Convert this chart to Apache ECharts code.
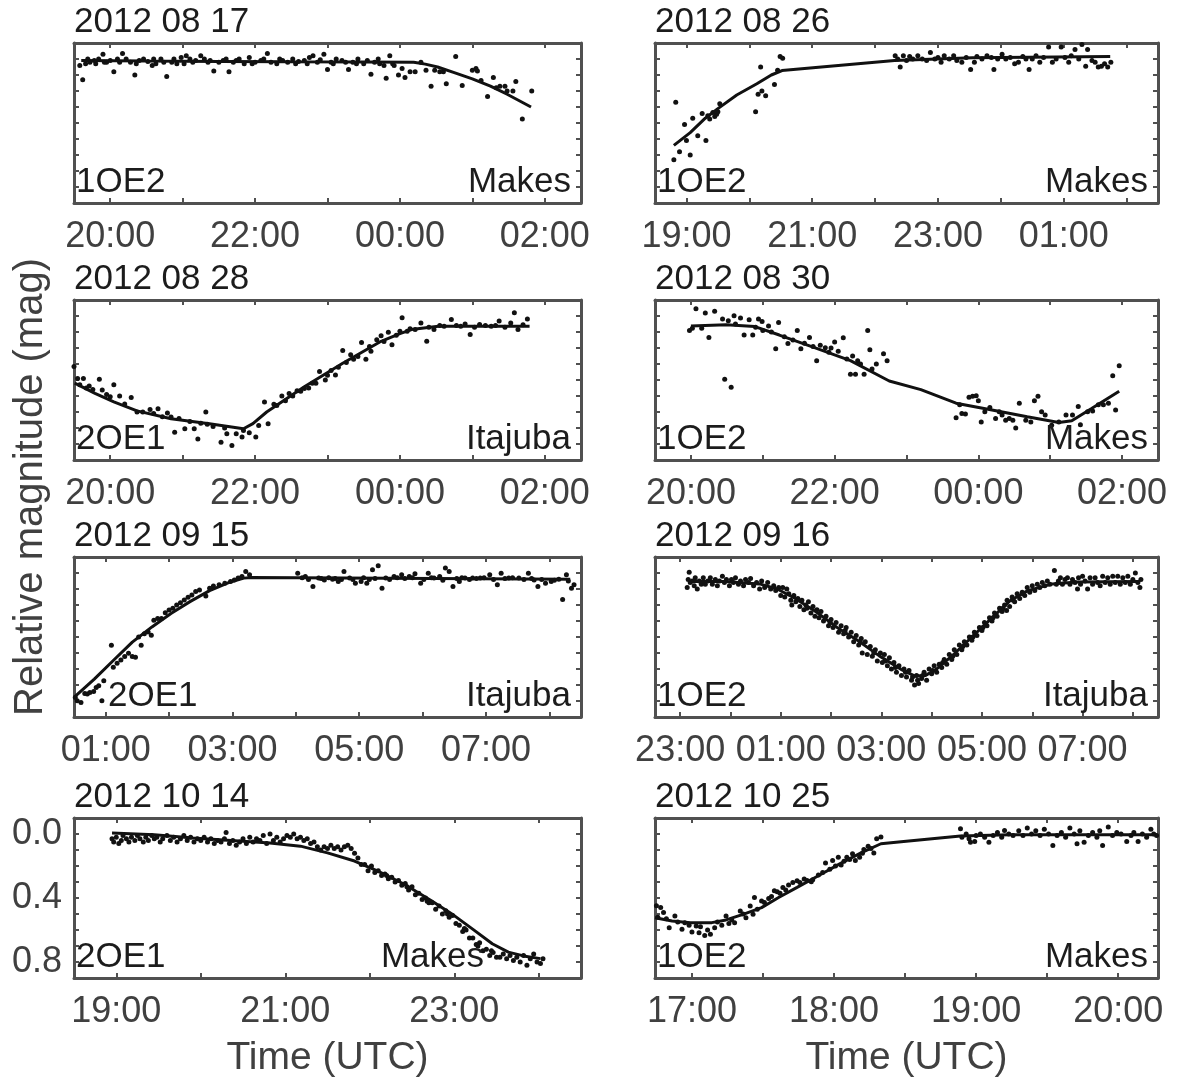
<!DOCTYPE html>
<html>
<head>
<meta charset="utf-8">
<script src="https://cdn.jsdelivr.net/npm/echarts@6/dist/echarts.min.js"></script>
<style>
  html, body { margin: 0; padding: 0; background: #fff; }
  #chart { width: 1178px; height: 1084px; }
</style>
</head>
<body>
<div id="chart"></div>
<script>
// ---- data (time in hours, magnitude in mag) ----
const titles = ['2012 08 17', '2012 08 26', '2012 08 28', '2012 08 30',
                '2012 09 15', '2012 09 16', '2012 10 14', '2012 10 25'];
const stations = ['1OE2', '1OE2', '2OE1', '1OE2', '2OE1', '1OE2', '2OE1', '1OE2'];
const sites = ['Makes', 'Makes', 'Itajuba', 'Makes', 'Itajuba', 'Itajuba', 'Makes', 'Makes'];
const xRanges = [[19.5, 26.5], [18.5, 26.5], [19.5, 26.5], [19.5, 26.5],
                 [0.5, 8.5], [22.5, 32.5], [18.5, 24.5], [16.74, 20.28]];
const tickSteps = [1, 1, 1, 1, 1, 1, 1, 0.5];
const labelStarts = [20, 19, 20, 20, 1, 23, 19, 17];
const labelSteps = [2, 2, 2, 2, 2, 2, 2, 1];
const yRange = [-0.1, 0.9];
const yTickLabels = [0.0, 0.4, 0.8];

const scatter0817 = [[19.58,0.04],[19.62,0.13],[19.66,0.03],[19.69,0.0],[19.72,0.02],[19.78,0.01],[19.8,0.03],[19.84,0.0],[19.9,-0.03],[19.92,0.02],[19.95,0.02],[20.0,0.01],[20.05,0.08],[20.1,0.0],[20.13,0.02],[20.17,-0.035],[20.22,0.0],[20.28,0.02],[20.34,0.1],[20.36,0.03],[20.4,0.01],[20.46,0.0],[20.52,0.015],[20.58,0.04],[20.6,0.0],[20.63,0.03],[20.7,0.0],[20.74,0.02],[20.78,0.11],[20.85,0.02],[20.88,0.0],[20.92,0.03],[20.98,-0.01],[21.02,0.03],[21.05,-0.02],[21.1,0.0],[21.14,0.02],[21.18,0.01],[21.25,-0.02],[21.3,0.0],[21.35,0.02],[21.38,0.01],[21.43,0.075],[21.5,0.02],[21.56,0.01],[21.6,0.0],[21.64,0.08],[21.7,0.02],[21.74,0.01],[21.78,0.0],[21.85,0.03],[21.92,-0.01],[21.96,0.03],[22.0,0.02],[22.08,0.01],[22.12,0.0],[22.17,-0.035],[22.22,0.02],[22.3,0.03],[22.34,0.0],[22.38,0.01],[22.45,0.02],[22.52,0.0],[22.56,0.03],[22.6,0.015],[22.68,0.01],[22.72,0.03],[22.75,-0.01],[22.8,-0.02],[22.86,0.02],[22.9,0.005],[22.95,-0.03],[23.0,0.065],[23.05,0.02],[23.08,0.03],[23.12,0.0],[23.2,0.01],[23.25,0.02],[23.29,0.065],[23.35,0.02],[23.4,0.03],[23.42,0.0],[23.5,0.03],[23.55,0.01],[23.6,0.095],[23.65,0.02],[23.7,0.0],[23.72,0.03],[23.78,0.04],[23.81,0.12],[23.86,-0.02],[23.9,0.03],[23.92,0.04],[23.98,0.1],[24.03,0.06],[24.07,0.115],[24.14,0.08],[24.21,0.08],[24.29,0.02],[24.36,0.07],[24.43,0.17],[24.48,0.07],[24.55,0.08],[24.6,0.08],[24.64,0.155],[24.77,-0.015],[24.86,0.165],[25.0,0.07],[25.05,0.06],[25.07,0.075],[25.12,0.135],[25.21,0.235],[25.29,0.115],[25.33,0.18],[25.38,0.17],[25.45,0.17],[25.48,0.2],[25.56,0.2],[25.6,0.14],[25.69,0.375],[25.82,0.2]];
const fit0817 = [[19.6,0.01],[20.5,0.013],[21.5,0.015],[22.5,0.017],[23.5,0.018],[24.19,0.02],[24.35,0.032],[24.52,0.05],[24.75,0.085],[25.0,0.124],[25.25,0.17],[25.48,0.22],[25.81,0.3]];

const scatter0826 = [[18.8,0.63],[18.83,0.27],[18.89,0.58],[18.97,0.41],[19.0,0.51],[19.06,0.6],[19.1,0.37],[19.18,0.48],[19.25,0.34],[19.31,0.51],[19.34,0.355],[19.37,0.375],[19.42,0.335],[19.45,0.36],[19.48,0.345],[19.5,0.33],[19.53,0.28],[20.1,0.33],[20.14,0.22],[20.18,0.05],[20.2,0.2],[20.26,0.23],[20.4,0.16],[20.45,0.07],[20.49,-0.015],[20.53,-0.005],[22.32,-0.02],[22.36,0.0],[22.4,0.05],[22.45,-0.02],[22.5,0.01],[22.55,-0.015],[22.6,0.0],[22.68,-0.02],[22.75,0.0],[22.82,0.01],[22.88,-0.04],[22.95,0.0],[23.0,-0.01],[23.05,0.02],[23.1,-0.02],[23.18,0.0],[23.25,-0.02],[23.3,0.01],[23.38,0.02],[23.45,-0.01],[23.52,0.065],[23.58,0.02],[23.62,-0.015],[23.7,0.0],[23.78,-0.02],[23.85,-0.01],[23.89,0.065],[23.95,0.0],[24.02,-0.03],[24.08,0.0],[24.15,-0.01],[24.22,0.03],[24.28,0.02],[24.35,-0.015],[24.4,0.0],[24.45,0.065],[24.5,0.0],[24.56,-0.02],[24.62,0.02],[24.68,-0.01],[24.76,-0.075],[24.82,0.02],[24.88,0.0],[24.96,-0.075],[25.02,-0.01],[25.08,0.02],[25.12,-0.02],[25.18,-0.06],[25.24,0.0],[25.29,-0.09],[25.35,0.045],[25.38,-0.06],[25.45,0.01],[25.5,0.02],[25.55,0.05],[25.6,0.045],[25.65,0.03],[25.7,0.05],[25.75,0.02]];
const fit0826 = [[18.8,0.54],[19.06,0.46],[19.3,0.37],[19.5,0.31],[19.8,0.225],[20.12,0.155],[20.35,0.1],[20.52,0.072],[22.31,0.01],[23.55,-0.008],[25.74,-0.016]];

const scatter0828 = [[19.5,0.316],[19.55,0.39],[19.58,0.43],[19.63,0.39],[19.67,0.45],[19.71,0.438],[19.76,0.46],[19.85,0.396],[19.89,0.463],[19.95,0.49],[20.0,0.505],[20.05,0.43],[20.13,0.5],[20.2,0.55],[20.29,0.509],[20.37,0.6],[20.45,0.6],[20.55,0.585],[20.6,0.61],[20.66,0.579],[20.72,0.63],[20.79,0.606],[20.84,0.631],[20.89,0.726],[20.95,0.64],[21.03,0.705],[21.1,0.66],[21.16,0.705],[21.21,0.768],[21.25,0.67],[21.32,0.6],[21.34,0.677],[21.42,0.69],[21.53,0.789],[21.58,0.7],[21.61,0.736],[21.68,0.81],[21.74,0.736],[21.82,0.757],[21.84,0.715],[21.92,0.73],[22.01,0.757],[22.05,0.684],[22.13,0.537],[22.18,0.673],[22.26,0.551],[22.3,0.56],[22.37,0.5],[22.42,0.53],[22.47,0.484],[22.52,0.5],[22.58,0.467],[22.63,0.47],[22.68,0.453],[22.74,0.45],[22.79,0.421],[22.84,0.42],[22.89,0.347],[22.97,0.4],[23.0,0.37],[23.05,0.34],[23.11,0.368],[23.15,0.32],[23.21,0.215],[23.26,0.29],[23.32,0.242],[23.36,0.27],[23.42,0.253],[23.47,0.165],[23.53,0.27],[23.58,0.19],[23.6,0.22],[23.68,0.148],[23.74,0.123],[23.78,0.16],[23.84,0.102],[23.89,0.18],[23.95,0.12],[24.0,0.095],[24.03,0.011],[24.1,0.095],[24.14,0.08],[24.21,0.085],[24.29,0.043],[24.37,0.158],[24.4,0.07],[24.47,0.085],[24.55,0.06],[24.61,0.064],[24.71,0.022],[24.78,0.06],[24.84,0.064],[24.9,0.05],[24.97,0.116],[25.03,0.07],[25.1,0.053],[25.18,0.06],[25.26,0.064],[25.32,0.06],[25.37,0.032],[25.45,0.07],[25.53,0.043],[25.58,-0.02],[25.63,0.085],[25.7,0.055],[25.76,0.018]];
const fit0828 = [[19.51,0.42],[19.79,0.484],[20.05,0.537],[20.37,0.593],[20.84,0.642],[21.37,0.673],[21.84,0.705],[21.97,0.673],[22.16,0.6],[22.68,0.442],[23.21,0.295],[23.74,0.158],[24.0,0.11],[24.16,0.085],[24.53,0.064],[25.05,0.064],[25.79,0.064]];

const scatter0830 = [[19.98,0.091],[20.02,0.077],[20.07,-0.045],[20.15,0.077],[20.2,-0.019],[20.25,0.134],[20.33,-0.03],[20.44,0.019],[20.47,0.396],[20.52,0.03],[20.56,0.445],[20.6,-0.002],[20.62,0.05],[20.69,0.013],[20.74,0.119],[20.81,0.023],[20.86,0.119],[20.9,0.07],[20.94,0.019],[20.99,0.034],[21.0,0.09],[21.08,0.062],[21.12,0.1],[21.18,0.204],[21.22,0.04],[21.3,0.13],[21.35,0.172],[21.42,0.15],[21.48,0.091],[21.53,0.204],[21.58,0.17],[21.65,0.134],[21.7,0.19],[21.75,0.279],[21.8,0.183],[21.87,0.198],[21.92,0.226],[21.95,0.2],[22.0,0.162],[22.05,0.22],[22.12,0.136],[22.17,0.268],[22.22,0.364],[22.25,0.25],[22.29,0.364],[22.32,0.28],[22.36,0.3],[22.41,0.364],[22.46,0.091],[22.49,0.211],[22.52,0.332],[22.58,0.3],[22.68,0.236],[22.73,0.279],[23.69,0.636],[23.74,0.555],[23.77,0.609],[23.82,0.613],[23.87,0.508],[23.92,0.502],[23.97,0.498],[24.0,0.53],[24.04,0.662],[24.09,0.598],[24.16,0.572],[24.24,0.64],[24.29,0.598],[24.33,0.619],[24.38,0.651],[24.43,0.64],[24.48,0.651],[24.52,0.7],[24.57,0.545],[24.66,0.651],[24.73,0.662],[24.78,0.53],[24.83,0.502],[24.88,0.598],[24.93,0.619],[25.02,0.683],[25.12,0.662],[25.22,0.619],[25.31,0.619],[25.39,0.566],[25.42,0.679],[25.52,0.598],[25.59,0.594],[25.67,0.555],[25.74,0.555],[25.81,0.545],[25.87,0.374],[25.91,0.587],[25.96,0.311]];
const fit0830 = [[20.0,0.062],[20.49,0.055],[20.89,0.066],[21.23,0.119],[21.72,0.198],[22.22,0.279],[22.76,0.406],[23.2,0.46],[23.69,0.545],[24.19,0.587],[24.68,0.63],[25.12,0.665],[25.3,0.655],[25.57,0.58],[25.96,0.47]];

const scatter0915 = [[0.52,0.778],[0.55,0.799],[0.61,0.81],[0.67,0.753],[0.71,0.757],[0.75,0.747],[0.81,0.74],[0.85,0.715],[0.89,0.705],[0.94,0.799],[0.97,0.673],[1.09,0.452],[1.12,0.589],[1.18,0.564],[1.24,0.543],[1.3,0.522],[1.36,0.501],[1.42,0.522],[1.47,0.526],[1.52,0.4],[1.56,0.452],[1.61,0.379],[1.67,0.368],[1.72,0.389],[1.76,0.295],[1.82,0.284],[1.88,0.284],[1.94,0.249],[2.0,0.232],[2.06,0.221],[2.12,0.2],[2.18,0.186],[2.24,0.169],[2.3,0.152],[2.36,0.137],[2.42,0.116],[2.48,0.106],[2.58,0.144],[2.64,0.095],[2.7,0.081],[2.79,0.074],[2.88,0.064],[2.97,0.053],[3.03,0.043],[3.09,0.032],[3.15,0.022],[3.21,-0.01],[3.27,0.011],[4.03,0.001],[4.1,0.03],[4.15,0.022],[4.2,0.04],[4.27,0.085],[4.36,0.032],[4.4,0.035],[4.45,0.043],[4.52,0.03],[4.58,0.039],[4.62,0.035],[4.67,0.053],[4.72,0.04],[4.76,-0.01],[4.85,0.032],[4.9,0.04],[4.94,0.064],[5.03,0.053],[5.07,0.03],[5.12,0.064],[5.16,0.04],[5.21,-0.02],[5.25,0.035],[5.3,-0.045],[5.36,0.095],[5.42,0.032],[5.48,0.04],[5.55,0.022],[5.6,0.03],[5.67,0.011],[5.72,0.035],[5.79,0.022],[5.84,0.03],[5.88,0.005],[5.97,0.064],[6.02,0.04],[6.09,0.001],[6.14,0.03],[6.18,0.032],[6.27,0.022],[6.32,0.045],[6.36,-0.031],[6.42,-0.01],[6.48,0.085],[6.54,0.035],[6.58,0.053],[6.62,0.03],[6.67,0.032],[6.74,0.04],[6.79,0.032],[6.85,0.035],[6.91,0.032],[6.97,0.03],[7.06,0.011],[7.12,0.04],[7.18,0.074],[7.24,0.001],[7.3,0.035],[7.36,0.032],[7.42,0.03],[7.52,0.032],[7.6,0.04],[7.67,0.001],[7.72,0.035],[7.76,0.043],[7.82,0.085],[7.88,0.04],[7.94,0.064],[8.03,0.053],[8.08,0.045],[8.15,0.039],[8.21,0.165],[8.27,0.011],[8.3,0.05],[8.35,0.095],[8.39,0.074]];
const fit0915 = [[0.5,0.778],[0.82,0.663],[1.12,0.547],[1.42,0.432],[1.73,0.337],[2.03,0.253],[2.33,0.179],[2.64,0.11],[2.94,0.06],[3.18,0.032],[3.3,0.028],[8.33,0.039]];

const scatter0916 = [[23.14,0.09],[23.16,0.04],[23.18,-0.005],[23.2,0.06],[23.24,0.05],[23.28,0.08],[23.3,0.03],[23.34,0.1],[23.38,0.05],[23.42,0.07],[23.46,0.03],[23.5,0.07],[23.55,0.05],[23.6,0.03],[23.64,0.07],[23.7,0.04],[23.74,0.08],[23.78,0.05],[23.84,0.02],[23.88,0.06],[23.92,0.04],[23.98,0.08],[24.02,0.04],[24.06,0.06],[24.1,0.03],[24.16,0.07],[24.2,0.05],[24.26,0.08],[24.3,0.04],[24.36,0.06],[24.4,0.035],[24.46,0.08],[24.52,0.06],[24.58,0.1],[24.62,0.05],[24.68,0.09],[24.74,0.06],[24.8,0.1],[24.86,0.08],[24.9,0.11],[24.96,0.09],[25.0,0.14],[25.04,0.09],[25.08,0.15],[25.12,0.1],[25.16,0.13],[25.2,0.17],[25.22,0.2],[25.26,0.14],[25.3,0.18],[25.34,0.16],[25.38,0.21],[25.42,0.17],[25.46,0.23],[25.5,0.2],[25.52,0.22],[25.55,0.18],[25.6,0.25],[25.64,0.21],[25.68,0.27],[25.72,0.23],[25.76,0.28],[25.8,0.24],[25.85,0.3],[25.9,0.27],[25.95,0.33],[25.98,0.31],[26.0,0.29],[26.04,0.34],[26.1,0.31],[26.15,0.37],[26.2,0.33],[26.25,0.38],[26.28,0.36],[26.3,0.34],[26.35,0.4],[26.4,0.37],[26.45,0.43],[26.5,0.39],[26.55,0.45],[26.58,0.43],[26.6,0.41],[26.62,0.5],[26.68,0.43],[26.72,0.51],[26.78,0.46],[26.82,0.52],[26.85,0.5],[26.88,0.48],[26.92,0.55],[26.98,0.5],[27.02,0.56],[27.06,0.51],[27.08,0.55],[27.12,0.58],[27.16,0.53],[27.2,0.6],[27.25,0.56],[27.28,0.59],[27.3,0.62],[27.35,0.58],[27.4,0.64],[27.45,0.6],[27.48,0.62],[27.5,0.65],[27.55,0.61],[27.6,0.67],[27.62,0.65],[27.66,0.7],[27.7,0.64],[27.72,0.67],[27.74,0.69],[27.8,0.66],[27.82,0.64],[27.85,0.62],[27.9,0.67],[27.95,0.6],[28.0,0.63],[28.02,0.61],[28.05,0.58],[28.1,0.62],[28.15,0.57],[28.2,0.59],[28.22,0.56],[28.25,0.54],[28.3,0.57],[28.35,0.51],[28.4,0.54],[28.42,0.52],[28.45,0.48],[28.5,0.51],[28.55,0.45],[28.6,0.48],[28.62,0.46],[28.65,0.43],[28.7,0.45],[28.75,0.4],[28.8,0.42],[28.82,0.4],[28.85,0.37],[28.9,0.39],[28.95,0.34],[29.0,0.36],[29.02,0.34],[29.05,0.31],[29.1,0.33],[29.15,0.28],[29.2,0.3],[29.22,0.28],[29.25,0.25],[29.3,0.27],[29.35,0.22],[29.4,0.24],[29.42,0.22],[29.45,0.2],[29.49,0.235],[29.5,0.17],[29.55,0.21],[29.6,0.15],[29.62,0.17],[29.65,0.18],[29.7,0.13],[29.75,0.16],[29.8,0.12],[29.82,0.13],[29.85,0.14],[29.9,0.09],[29.95,0.12],[30.0,0.08],[30.05,0.11],[30.1,0.07],[30.15,0.09],[30.2,0.06],[30.25,0.08],[30.3,0.05],[30.35,0.07],[30.44,-0.015],[30.48,0.07],[30.52,0.05],[30.56,0.03],[30.6,0.07],[30.65,0.04],[30.7,0.03],[30.75,0.07],[30.8,0.04],[30.85,0.06],[30.9,0.1],[30.92,0.03],[30.96,0.07],[31.0,0.02],[31.05,0.05],[31.1,0.1],[31.15,0.03],[31.2,0.07],[31.25,0.03],[31.3,0.06],[31.35,0.08],[31.4,0.02],[31.45,0.06],[31.5,0.03],[31.55,0.07],[31.6,0.02],[31.65,0.06],[31.7,0.02],[31.75,0.07],[31.8,0.03],[31.85,0.06],[31.9,0.02],[31.95,0.07],[32.0,0.04],[32.05,0.0],[32.1,0.06],[32.14,0.09],[32.16,0.04]];
const fit0916 = [[23.18,0.053],[23.88,0.053],[24.58,0.068],[24.93,0.1],[25.28,0.158],[25.7,0.242],[26.12,0.34],[26.54,0.424],[26.96,0.518],[27.39,0.602],[27.67,0.644],[27.88,0.64],[28.09,0.602],[28.44,0.508],[28.79,0.403],[29.21,0.277],[29.56,0.173],[29.91,0.11],[30.4,0.068],[30.89,0.057],[32.12,0.053]];

const scatter1014 = [[18.95,0.03],[18.97,0.05],[19.0,0.02],[19.03,0.06],[19.06,0.04],[19.08,0.01],[19.12,0.03],[19.15,0.05],[19.18,0.02],[19.22,0.04],[19.25,0.01],[19.28,0.03],[19.32,0.05],[19.35,0.02],[19.38,0.04],[19.42,0.01],[19.45,0.03],[19.48,0.02],[19.52,0.05],[19.55,0.03],[19.6,0.01],[19.64,0.04],[19.68,0.02],[19.72,0.05],[19.76,0.03],[19.8,0.01],[19.84,0.04],[19.88,0.02],[19.92,0.05],[19.96,0.03],[20.0,0.04],[20.04,0.02],[20.08,0.05],[20.12,0.03],[20.16,0.06],[20.2,0.04],[20.24,0.05],[20.28,0.03],[20.3,-0.01],[20.34,0.06],[20.38,0.04],[20.42,0.07],[20.46,0.05],[20.5,0.03],[20.54,0.06],[20.58,0.02],[20.62,0.05],[20.66,0.03],[20.7,0.04],[20.74,0.01],[20.78,0.06],[20.82,0.0],[20.86,0.04],[20.9,0.02],[20.94,0.05],[20.98,0.03],[21.02,0.01],[21.06,0.02],[21.1,0.0],[21.14,0.03],[21.18,0.02],[21.22,0.04],[21.26,0.03],[21.3,0.06],[21.34,0.05],[21.38,0.08],[21.42,0.1],[21.46,0.08],[21.5,0.09],[21.54,0.07],[21.58,0.09],[21.62,0.08],[21.66,0.1],[21.7,0.08],[21.74,0.07],[21.78,0.09],[21.82,0.12],[21.86,0.15],[21.9,0.19],[21.94,0.19],[21.98,0.23],[22.02,0.2],[22.06,0.24],[22.1,0.23],[22.14,0.26],[22.18,0.25],[22.2,0.26],[22.22,0.28],[22.26,0.27],[22.3,0.3],[22.34,0.29],[22.38,0.32],[22.42,0.31],[22.44,0.33],[22.46,0.35],[22.5,0.33],[22.54,0.38],[22.58,0.37],[22.62,0.41],[22.66,0.4],[22.68,0.42],[22.7,0.43],[22.74,0.43],[22.78,0.47],[22.82,0.45],[22.86,0.5],[22.9,0.48],[22.92,0.5],[22.94,0.52],[22.98,0.51],[23.02,0.56],[23.06,0.57],[23.1,0.61],[23.12,0.59],[23.14,0.6],[23.18,0.65],[23.22,0.65],[23.26,0.69],[23.28,0.7],[23.3,0.68],[23.34,0.73],[23.38,0.72],[23.42,0.76],[23.44,0.73],[23.46,0.74],[23.5,0.77],[23.54,0.77],[23.58,0.75],[23.62,0.78],[23.66,0.76],[23.7,0.79],[23.74,0.77],[23.78,0.8],[23.82,0.76],[23.86,0.82],[23.9,0.78],[23.94,0.75],[23.98,0.8],[24.02,0.81],[24.05,0.78]];
const fit1014 = [[18.95,-0.006],[19.45,0.004],[19.91,0.025],[20.36,0.041],[20.82,0.056],[21.18,0.076],[21.5,0.118],[21.82,0.169],[22.09,0.231],[22.41,0.314],[22.73,0.417],[23.0,0.51],[23.23,0.599],[23.45,0.686],[23.64,0.738],[23.82,0.762],[24.02,0.779]];

const scatter1025 = [[16.75,0.449],[16.76,0.52],[16.78,0.46],[16.8,0.491],[16.82,0.53],[16.84,0.586],[16.88,0.512],[16.9,0.55],[16.93,0.596],[16.95,0.554],[16.98,0.57],[17.0,0.613],[17.03,0.575],[17.05,0.617],[17.06,0.58],[17.09,0.634],[17.11,0.6],[17.13,0.627],[17.16,0.586],[17.18,0.55],[17.21,0.571],[17.24,0.512],[17.26,0.56],[17.28,0.537],[17.3,0.554],[17.34,0.481],[17.36,0.5],[17.38,0.523],[17.41,0.45],[17.43,0.502],[17.44,0.397],[17.46,0.47],[17.49,0.418],[17.51,0.428],[17.54,0.403],[17.56,0.39],[17.58,0.355],[17.6,0.361],[17.62,0.37],[17.64,0.334],[17.66,0.35],[17.68,0.319],[17.71,0.303],[17.74,0.292],[17.76,0.303],[17.79,0.282],[17.81,0.29],[17.84,0.298],[17.85,0.286],[17.89,0.256],[17.92,0.24],[17.94,0.181],[17.97,0.22],[17.99,0.166],[18.01,0.2],[18.03,0.145],[18.05,0.194],[18.07,0.17],[18.09,0.145],[18.11,0.16],[18.13,0.124],[18.15,0.166],[18.18,0.145],[18.2,0.12],[18.21,0.097],[18.24,0.076],[18.26,0.09],[18.28,0.118],[18.3,0.03],[18.33,0.019],[18.89,-0.033],[18.9,0.02],[18.93,0.0],[18.95,0.03],[18.96,0.051],[18.99,0.047],[19.0,0.01],[19.03,0.0],[19.06,0.02],[19.09,0.051],[19.12,0.01],[19.15,-0.01],[19.18,0.02],[19.2,-0.022],[19.23,0.0],[19.26,0.01],[19.3,-0.02],[19.33,0.01],[19.36,-0.037],[19.39,0.0],[19.42,-0.02],[19.45,0.01],[19.48,-0.03],[19.51,0.0],[19.54,0.072],[19.57,0.01],[19.6,-0.01],[19.63,0.02],[19.66,-0.037],[19.69,0.0],[19.71,0.061],[19.73,-0.02],[19.76,0.051],[19.79,0.01],[19.82,-0.01],[19.85,0.02],[19.87,-0.02],[19.89,0.072],[19.93,-0.043],[19.96,0.01],[19.99,-0.01],[20.02,0.0],[20.06,0.047],[20.09,0.01],[20.11,-0.01],[20.14,0.047],[20.17,0.0],[20.2,0.02],[20.23,-0.029],[20.25,0.0],[20.27,0.01]];
const fit1025 = [[16.74,0.523],[16.86,0.544],[16.99,0.554],[17.14,0.554],[17.24,0.537],[17.36,0.502],[17.49,0.46],[17.61,0.397],[17.74,0.334],[17.89,0.261],[18.04,0.187],[18.19,0.118],[18.33,0.061],[18.49,0.047],[18.89,0.013],[19.24,0.005],[20.26,0.005]];

const scatterData = [scatter0817, scatter0826, scatter0828, scatter0830, scatter0915, scatter0916, scatter1014, scatter1025];
const fitData = [fit0817, fit0826, fit0828, fit0830, fit0915, fit0916, fit1014, fit1025];

// ---- layout ----
const FONT = "'Liberation Sans', Arial, Helvetica, sans-serif";
const colLeft = [74, 655];
const colWidth = [507, 503];
const rowTop = [43, 300, 557, 818];
const rowHeight = 160;
const frameColor = '#505050';
const labelColor = '#404040';
const inkColor = '#1c1c1c';

const chart = echarts.init(document.getElementById('chart'));

const grid = [], xAxis = [], yAxis = [], series = [], graphic = [];

function hourLabel(v, i) {
  const k = (v - labelStarts[i]) / labelSteps[i];
  if (Math.abs(k - Math.round(k)) > 1e-6) return '';
  const h = ((Math.round(v) % 24) + 24) % 24;
  return String(h).padStart(2, '0') + ':00';
}

function magLabel(v) {
  for (const t of yTickLabels) {
    if (Math.abs(v - t) < 1e-6) return t.toFixed(1);
  }
  return '';
}

const tickStyle = { show: true, inside: true, length: 5, lineStyle: { color: frameColor, width: 2 } };
const lineStyle = { show: true, onZero: false, lineStyle: { color: frameColor, width: 3 } };

for (let i = 0; i < 8; i++) {
  const row = Math.floor(i / 2), col = i % 2;
  const left = colLeft[col], top = rowTop[row], width = colWidth[col];
  grid.push({ left: left, top: top, width: width, height: rowHeight, containLabel: false });

  const xBase = {
    type: 'value', gridIndex: i, min: xRanges[i][0], max: xRanges[i][1],
    minInterval: tickSteps[i], maxInterval: tickSteps[i],
    splitNumber: Math.round((xRanges[i][1] - xRanges[i][0]) / tickSteps[i]),
    axisLine: lineStyle, axisTick: tickStyle, splitLine: { show: false }
  };
  xAxis.push(Object.assign({}, xBase, {
    position: 'bottom',
    axisLabel: {
      show: true, margin: 16, fontSize: 36, fontFamily: FONT, color: labelColor,
      formatter: (v) => hourLabel(v, i)
    }
  }));
  xAxis.push(Object.assign({}, xBase, { position: 'top', axisLabel: { show: false } }));

  const yBase = {
    type: 'value', gridIndex: i, min: yRange[0], max: yRange[1], interval: 0.1,
    inverse: true, axisLine: lineStyle, axisTick: tickStyle, splitLine: { show: false }
  };
  yAxis.push(Object.assign({}, yBase, {
    position: 'left',
    axisLabel: {
      show: i === 6, margin: 12, fontSize: 36, fontFamily: FONT, color: labelColor,
      formatter: magLabel
    }
  }));
  yAxis.push(Object.assign({}, yBase, { position: 'right', axisLabel: { show: false } }));

  series.push({
    type: 'scatter', xAxisIndex: 2 * i, yAxisIndex: 2 * i,
    data: scatterData[i], symbolSize: 5,
    itemStyle: { color: '#111111', opacity: 1 }, z: 2
  });
  series.push({
    type: 'line', xAxisIndex: 2 * i, yAxisIndex: 2 * i,
    data: fitData[i], showSymbol: false, symbol: 'none',
    lineStyle: { color: '#111111', width: 3 }, z: 3
  });

  // panel title (date)
  graphic.push({
    type: 'text', x: left, y: top - 21, z: 10,
    style: { text: titles[i], font: '35px ' + FONT, fill: inkColor,
             textAlign: 'left', textVerticalAlign: 'middle' }
  });
  // station label, bottom left
  const stationOffset = i === 4 ? 34 : 2;
  graphic.push({
    type: 'text', x: left + stationOffset, y: top + rowHeight - 21, z: 10,
    style: { text: stations[i], font: '35px ' + FONT, fill: inkColor,
             textAlign: 'left', textVerticalAlign: 'middle' }
  });
  // site label, bottom right
  const siteOffset = i === 6 ? 97 : 10;
  graphic.push({
    type: 'text', x: left + width - siteOffset, y: top + rowHeight - 21, z: 10,
    style: { text: sites[i], font: '35px ' + FONT, fill: inkColor,
             textAlign: 'right', textVerticalAlign: 'middle' }
  });
}

// shared axis titles
graphic.push({
  type: 'text', x: 31, y: 487, rotation: Math.PI / 2, z: 10,
  style: { text: 'Relative magnitude (mag)', font: '40px ' + FONT, fill: labelColor,
           textAlign: 'center', textVerticalAlign: 'middle' }
});
for (let col = 0; col < 2; col++) {
  graphic.push({
    type: 'text', x: colLeft[col] + colWidth[col] / 2, y: 1058, z: 10,
    style: { text: 'Time (UTC)', font: '39px ' + FONT, fill: labelColor,
             textAlign: 'center', textVerticalAlign: 'middle' }
  });
}

chart.setOption({
  animation: false,
  backgroundColor: '#ffffff',
  grid: grid,
  xAxis: xAxis,
  yAxis: yAxis,
  series: series,
  graphic: graphic
});
</script>
</body>
</html>
